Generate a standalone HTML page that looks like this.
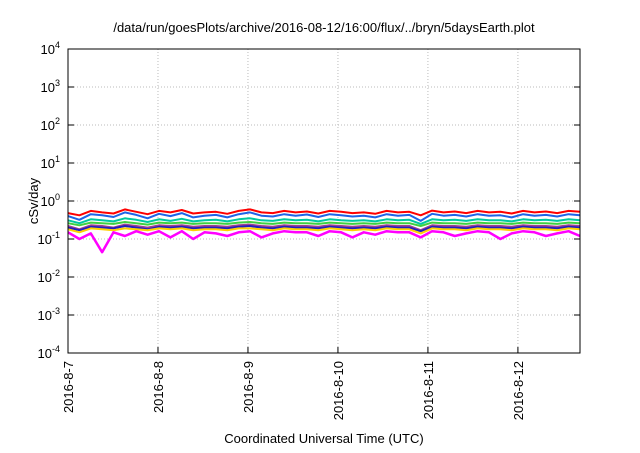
<!DOCTYPE html>
<html><head><meta charset="utf-8"><style>
body{margin:0;background:#fff}
svg{font-family:"Liberation Sans",sans-serif}
</style></head><body>
<svg id="c" width="640" height="448"></svg>
<script>
const xTickLabels=["2016-8-7","2016-8-8","2016-8-9","2016-8-10","2016-8-11","2016-8-12"];
const yTickExps=[4,3,2,1,0,-1,-2,-3,-4];
const seriesColors=["#ff0000","#1e64e6","#00c8a0","#40d040","#a04090","#2020c0","#ffd000","#ff00ff"];
const seriesNames=["s1","s2","s3","s4","s5","s6","s7","s8"];
const redVals=[0.48,0.42,0.55,0.5,0.47,0.6,0.52,0.45,0.55,0.5,0.58,0.47,0.5,0.52,0.46,0.55,0.6,0.5,0.48,0.55,0.5,0.53,0.47,0.55,0.52,0.48,0.5,0.46,0.55,0.5,0.52,0.42,0.56,0.5,0.53,0.48,0.55,0.5,0.52,0.47,0.55,0.5,0.53,0.48,0.55,0.52];
const blueVals=[0.4,0.32,0.45,0.42,0.38,0.5,0.43,0.35,0.46,0.4,0.48,0.37,0.41,0.43,0.37,0.45,0.5,0.41,0.39,0.45,0.41,0.44,0.38,0.45,0.42,0.39,0.41,0.37,0.45,0.41,0.43,0.3,0.46,0.41,0.43,0.39,0.45,0.41,0.42,0.37,0.45,0.41,0.43,0.39,0.45,0.42];
const tealVals=[0.31,0.26,0.33,0.31,0.29,0.35,0.32,0.28,0.33,0.3,0.34,0.29,0.31,0.32,0.29,0.33,0.35,0.31,0.3,0.33,0.31,0.32,0.29,0.33,0.31,0.3,0.31,0.29,0.33,0.31,0.32,0.25,0.33,0.31,0.32,0.3,0.33,0.31,0.31,0.29,0.33,0.31,0.32,0.3,0.33,0.31];
const greenVals=[0.26,0.23,0.27,0.26,0.25,0.28,0.26,0.24,0.27,0.26,0.27,0.25,0.26,0.26,0.25,0.27,0.28,0.26,0.25,0.27,0.26,0.26,0.25,0.27,0.26,0.25,0.26,0.25,0.27,0.26,0.26,0.22,0.27,0.26,0.26,0.25,0.27,0.26,0.26,0.25,0.27,0.26,0.26,0.25,0.27,0.26];
const purpleVals=[0.22,0.18,0.23,0.22,0.2,0.24,0.22,0.2,0.23,0.22,0.23,0.21,0.22,0.22,0.21,0.23,0.24,0.22,0.21,0.23,0.22,0.22,0.21,0.23,0.22,0.21,0.22,0.21,0.23,0.22,0.22,0.17,0.23,0.22,0.22,0.21,0.23,0.22,0.22,0.21,0.23,0.22,0.22,0.21,0.23,0.22];
const navyVals=[0.2,0.17,0.21,0.2,0.19,0.22,0.2,0.18,0.21,0.2,0.21,0.19,0.2,0.2,0.19,0.21,0.22,0.2,0.19,0.21,0.2,0.2,0.19,0.21,0.2,0.19,0.2,0.19,0.21,0.2,0.2,0.16,0.21,0.2,0.2,0.19,0.21,0.2,0.2,0.19,0.21,0.2,0.2,0.19,0.21,0.2];
const yellowVals=[0.18,0.15,0.19,0.18,0.17,0.19,0.18,0.17,0.19,0.18,0.19,0.17,0.18,0.18,0.17,0.19,0.19,0.18,0.17,0.19,0.18,0.18,0.17,0.19,0.18,0.17,0.18,0.17,0.19,0.18,0.18,0.14,0.19,0.18,0.18,0.17,0.19,0.18,0.18,0.17,0.19,0.18,0.18,0.17,0.19,0.18];
const magentaVals=[0.15,0.1,0.14,0.045,0.15,0.12,0.16,0.13,0.16,0.11,0.16,0.1,0.15,0.14,0.12,0.15,0.16,0.11,0.14,0.16,0.15,0.15,0.12,0.16,0.15,0.11,0.15,0.13,0.16,0.15,0.15,0.11,0.16,0.15,0.12,0.14,0.16,0.15,0.1,0.14,0.16,0.15,0.12,0.14,0.16,0.12];
const allSeries=[redVals,blueVals,tealVals,greenVals,purpleVals,navyVals,yellowVals,magentaVals];
const L=68,R=580,T=49,B=353,days=5.69;
const NS="http://www.w3.org/2000/svg",svg=document.getElementById('c');
function xS(d){return L+d/days*(R-L);}
function yS(v){return B-(Math.log10(v)+4)/8*(B-T);}
function mk(t,a,p){const e=document.createElementNS(NS,t);for(const k in a)e.setAttribute(k,a[k]);(p||svg).appendChild(e);return e;}
yTickExps.forEach(e=>{const y=yS(Math.pow(10,e));
 if(e>-4&&e<4){const g=mk('line',{x1:L,x2:R,y1:y,y2:y,stroke:'#bbb','stroke-dasharray':'1,2'});}
 const tk=mk('line',{x1:L,x2:L+6,y1:y,y2:y,stroke:'#000'});
 const tk2=mk('line',{x1:R-6,x2:R,y1:y,y2:y,stroke:'#000'});
 const t=mk('text',{x:L-8,y:y+5,'text-anchor':'end','font-size':'13'});
 t.textContent='10';const s=mk('tspan',{dy:-6,'font-size':'9'},t);s.textContent=String(e);
});
xTickLabels.forEach((lab,i)=>{const x=xS(i);
 if(i>0){const g=mk('line',{x1:x,x2:x,y1:T,y2:B,stroke:'#bbb','stroke-dasharray':'1,2'});}
 const tk=mk('line',{x1:x,x2:x,y1:B-6,y2:B,stroke:'#000'});
 const t=mk('text',{x:x+5,y:B+8,'text-anchor':'end','font-size':'13',transform:`rotate(-90 ${x+5} ${B+8})`});t.textContent=lab;
});
allSeries.forEach((vals,si)=>{
 const pts=vals.map((v,i)=>xS(i/(vals.length-1)*days).toFixed(1)+','+yS(v).toFixed(1)).join(' ');
 const p=mk('polyline',{points:pts,fill:'none',stroke:seriesColors[si],'stroke-width':si==7?2.5:2,'stroke-linejoin':'round'});
 
});
const fr=mk('rect',{x:L,y:T,width:R-L,height:B-T,fill:'none',stroke:'#000'});
const tt=mk('text',{x:324,y:32,'text-anchor':'middle','font-size':'13'});tt.textContent='/data/run/goesPlots/archive/2016-08-12/16:00/flux/../bryn/5daysEarth.plot';
const yt=mk('text',{x:38,y:201,'text-anchor':'middle','font-size':'13',transform:'rotate(-90 38 201)'});yt.textContent='cSv/day';
const xt=mk('text',{x:324,y:443,'text-anchor':'middle','font-size':'13'});xt.textContent='Coordinated Universal Time (UTC)';
</script>
</body></html>
